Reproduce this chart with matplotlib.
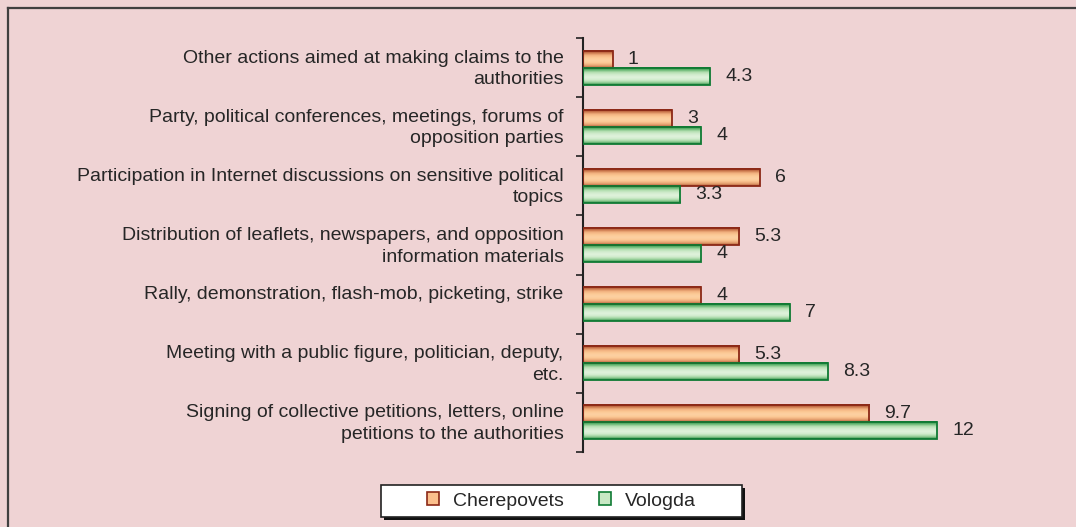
import matplotlib.pyplot as plt
import numpy as np
from matplotlib.colors import LinearSegmentedColormap
from matplotlib.patches import Rectangle, Patch
from matplotlib.lines import Line2D
from matplotlib.transforms import ScaledTranslation

# categories listed top to bottom as in the chart
categories = [
    "Other actions aimed at making claims to the\nauthorities",
    "Party, political conferences, meetings, forums of\nopposition parties",
    "Participation in Internet discussions on sensitive political\ntopics",
    "Distribution of leaflets, newspapers, and opposition\ninformation materials",
    "Rally, demonstration, flash-mob, picketing, strike\n",
    "Meeting with a public figure, politician, deputy,\netc.",
    "Signing of collective petitions, letters, online\npetitions to the authorities",
]
cherepovets = [1, 3, 6, 5.3, 4, 5.3, 9.7]
vologda = [4.3, 4, 3.3, 4, 7, 8.3, 12]
series_names = ["Cherepovets", "Vologda"]

bg = "#efd3d4"
txt = "#262626"
fs = 14
plt.rcParams['font.family'] = ['Liberation Sans', 'DejaVu Sans']

cm_or = LinearSegmentedColormap.from_list(
    "or", ["#8f2c1a", "#c9744a", "#f2b27f", "#fcc995", "#fdd1a3", "#fcc995", "#e9a674", "#b35f39"])
cm_gr = LinearSegmentedColormap.from_list(
    "gr", ["#157a35", "#5fb36c", "#b3deb0", "#d2ecce", "#dff2dc", "#d2ecce", "#9fd49f", "#2e8c45"])
grad = np.linspace(0, 1, 64).reshape(-1, 1)

fig = plt.figure(figsize=(10.76, 5.27), dpi=100)
fig.patch.set_facecolor(bg)
ax = fig.add_axes([583 / 1076, 1 - 452 / 527, 413 / 1076, 414 / 527])
ax.set_facecolor(bg)

y = np.arange(len(categories))
h = 0.288
b1 = ax.barh(y - h / 2, cherepovets, height=h, facecolor='none',
             edgecolor="#8b2816", linewidth=1.3, zorder=3)
b2 = ax.barh(y + h / 2, vologda, height=h, facecolor='none',
             edgecolor="#0f7a33", linewidth=1.3, zorder=3)

for bars, cmap in [(b1, cm_or), (b2, cm_gr)]:
    for p in bars:
        x0, y0, w, hh = p.get_x(), p.get_y(), p.get_width(), p.get_height()
        ax.imshow(grad, cmap=cmap, aspect='auto', origin='upper',
                  extent=(x0, x0 + w, y0 + hh, y0), zorder=2, interpolation='bilinear')

for bars, vals in [(b1, cherepovets), (b2, vologda)]:
    for p, v in zip(bars, vals):
        ax.annotate(f"{v:g}", (p.get_width(), p.get_y() + p.get_height() / 2),
                    xytext=(11, 0), textcoords='offset points', ha='left',
                    va='center', fontsize=fs, color=txt)

ax.set_xlim(0, 14)
ax.set_ylim(len(categories) - 0.5, -0.5)
ax.set_yticks(y)
ax.set_yticklabels(categories, fontsize=fs, color=txt, linespacing=1.35)
ax.set_yticks(np.arange(len(categories) + 1) - 0.5, minor=True)
ax.tick_params(axis='y', which='major', length=0, pad=14)
ax.tick_params(axis='y', which='minor', length=5, width=1.2, color='#222222', direction='out')
ax.tick_params(axis='x', bottom=False, labelbottom=False)
shift = ScaledTranslation(0, 0.03, fig.dpi_scale_trans)
for lab in ax.get_yticklabels():
    lab.set_transform(lab.get_transform() + shift)
for s in ['top', 'right', 'bottom']:
    ax.spines[s].set_visible(False)
ax.spines['left'].set_linewidth(1.5)
ax.spines['left'].set_color('#222222')

# outer frame (top and left edges)
fig.add_artist(Line2D([8 / 1076, 1], [1 - 8 / 527, 1 - 8 / 527], color='#404040', lw=1.6))
fig.add_artist(Line2D([8 / 1076, 8 / 1076], [0, 1 - 8 / 527], color='#404040', lw=1.6))

# legend box with shadow
lx0, ly0, lw, lh = 381 / 1076, 1 - 517 / 527, 361 / 1076, 32 / 527
fig.add_artist(Rectangle((lx0 + 3 / 1076, ly0 - 3 / 527), lw, lh, transform=fig.transFigure,
                         facecolor='#111111', edgecolor='none'))
fig.add_artist(Rectangle((lx0, ly0), lw, lh, transform=fig.transFigure,
                         facecolor='white', edgecolor='#222222', lw=1.2))
handles = [Patch(facecolor="#fbbf8c", edgecolor="#8b2816", lw=1.2),
           Patch(facecolor="#c8e8c4", edgecolor="#0f7a33", lw=1.2)]
fig.legend(handles, series_names, loc='center', ncol=2,
           bbox_to_anchor=(lx0 + lw / 2, ly0 + lh / 2), frameon=False,
           fontsize=fs, handlelength=0.62, handleheight=0.62, handletextpad=0.7,
           columnspacing=1.8, labelcolor=txt)

fig.savefig("out.png", dpi=100, facecolor=bg)
